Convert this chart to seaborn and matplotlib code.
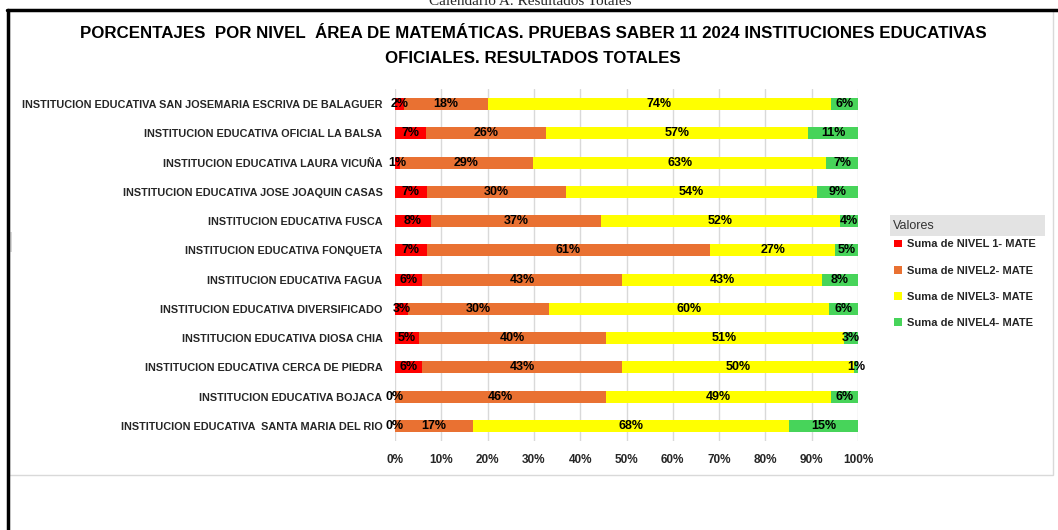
import numpy as np
import pandas as pd
import seaborn as sns
import matplotlib.pyplot as plt
from matplotlib.patches import Rectangle, Patch
from matplotlib.lines import Line2D

# institutions, top to bottom as in the chart
INSTITUCIONES = [
    'INSTITUCION EDUCATIVA SAN JOSEMARIA ESCRIVA DE BALAGUER',
    'INSTITUCION EDUCATIVA OFICIAL LA BALSA',
    'INSTITUCION EDUCATIVA LAURA VICUÑA',
    'INSTITUCION EDUCATIVA JOSE JOAQUIN CASAS',
    'INSTITUCION EDUCATIVA FUSCA',
    'INSTITUCION EDUCATIVA FONQUETA',
    'INSTITUCION EDUCATIVA FAGUA',
    'INSTITUCION EDUCATIVA DIVERSIFICADO',
    'INSTITUCION EDUCATIVA DIOSA CHIA',
    'INSTITUCION EDUCATIVA CERCA DE PIEDRA',
    'INSTITUCION EDUCATIVA BOJACA',
    'INSTITUCION EDUCATIVA  SANTA MARIA DEL RIO',
]

# percentages per level
NIVEL1 = [2.0, 6.7, 1.0, 6.9, 7.8, 6.9, 5.9, 2.9, 5.2, 5.9, 0.0, 0.0]
NIVEL2 = [18.0, 25.9, 28.9, 30.0, 36.7, 61.1, 43.1, 30.4, 40.3, 43.1, 45.6, 16.9]
NIVEL3 = [74.2, 56.6, 63.2, 54.3, 51.6, 27.1, 43.2, 60.4, 51.4, 50.1, 48.6, 68.2]
NIVEL4 = [5.8, 10.8, 6.9, 8.8, 3.9, 4.9, 7.8, 6.3, 3.1, 0.9, 5.8, 14.9]

SERIES = ['Suma de NIVEL 1- MATE', 'Suma de NIVEL2- MATE',
          'Suma de NIVEL3- MATE', 'Suma de NIVEL4- MATE']
COLORS = ['#FF0000', '#E97132', '#FFFF00', '#47D45A']

TITLE = ('PORCENTAJES  POR NIVEL  ÁREA DE MATEMÁTICAS. PRUEBAS SABER 11 2024 '
         'INSTITUCIONES EDUCATIVAS\nOFICIALES. RESULTADOS TOTALES')

sns.set_style('white')
plt.rcParams['font.family'] = ['Liberation Sans', 'DejaVu Sans']

W, H = 1058, 530
fig = plt.figure(figsize=(W / 100, H / 100), dpi=100)

def px(x0, y0, x1, y1):
    # pixel box -> figure fraction [left, bottom, width, height]
    return [x0 / W, 1 - y1 / H, (x1 - x0) / W, (y1 - y0) / H]

# frame decoration
fig.add_artist(Rectangle((9 / W, 1 - 475 / H), 1044 / W, 465 / H,
                         transform=fig.transFigure, fill=False,
                         edgecolor='#d9d9d9', lw=1))
fig.add_artist(Line2D([7 / W, 1], [1 - 10 / H, 1 - 10 / H],
                      transform=fig.transFigure, color='black', lw=2.5))
fig.add_artist(Line2D([7.5 / W, 7.5 / W], [0, 1 - 10 / H],
                      transform=fig.transFigure, color='black', lw=2.5))
fig.add_artist(Rectangle((9.5 / W, 1 - 252 / H), 2 / W, 20 / H,
                         transform=fig.transFigure, color='#d9d9d9', lw=0))
fig.text(530 / W, 1 - 5 / H, 'Calendario A. Resultados Totales',
         family='Liberation Serif', fontsize=11, ha='center', va='baseline')

ax = fig.add_axes(px(395, 89.4, 858, 440.6))

df = pd.DataFrame({'inst': INSTITUCIONES, 'n1': NIVEL1, 'n2': NIVEL2,
                   'n3': NIVEL3, 'n4': NIVEL4})
levels = df[['n1', 'n2', 'n3', 'n4']].to_numpy()
cum = levels.cumsum(axis=1)

# draw the cumulative totals from the outermost layer in
for k in range(3, -1, -1):
    sns.barplot(x=cum[:, k], y=df['inst'], color=COLORS[k], orient='h',
                width=0.41, saturation=1, ax=ax, linewidth=0, zorder=2)

for i in range(len(df)):
    for k in range(4):
        left = cum[i, k] - levels[i, k]
        ax.text(left + levels[i, k] / 2, i, f'{int(round(levels[i, k]))}%',
                ha='center', va='center', fontsize=9, fontweight='bold',
                color='black', zorder=5)

ax.set_xlim(0, 100)
ax.set_ylim(len(df) - 0.5, -0.5)
ax.set_xticks(np.arange(0, 101, 10))
ax.set_xticklabels([f'{t}%' for t in range(0, 101, 10)],
                   fontsize=8.5, fontweight='bold')
ax.tick_params(axis='x', length=0, pad=10)
ax.tick_params(axis='y', length=0, pad=9, labelsize=7.8)
for lbl in ax.get_yticklabels():
    lbl.set_fontweight('bold')
ax.set_xlabel('')
ax.set_ylabel('')
ax.grid(axis='x', color='#d9d9d9', lw=1, zorder=0)
ax.set_axisbelow(True)
for s in ax.spines.values():
    s.set_visible(False)

fig.text(533 / W, 1 - 46 / H, TITLE, ha='center', va='center',
         fontsize=12.2, fontweight='bold', linespacing=1.85,
         family='Liberation Sans', color='black')

# legend block
fig.add_artist(Rectangle((890 / W, 1 - 236 / H), 155 / W, 21 / H,
                         transform=fig.transFigure, color='#e3e3e3', lw=0))
fig.text(893 / W, 1 - 226 / H, 'Valores', fontsize=9, va='center',
         color='#333333')
handles = [Patch(facecolor=c, edgecolor='none', label=s)
           for c, s in zip(COLORS, SERIES)]
leg = fig.legend(handles=handles, loc='upper left',
                 bbox_to_anchor=(890 / W, 1 - 235 / H), frameon=False,
                 fontsize=8, handlelength=0.7, handleheight=0.7,
                 handletextpad=0.4, labelspacing=1.45, borderaxespad=0)
for t in leg.get_texts():
    t.set_fontweight('bold')

fig.savefig('out.png', dpi=100)
